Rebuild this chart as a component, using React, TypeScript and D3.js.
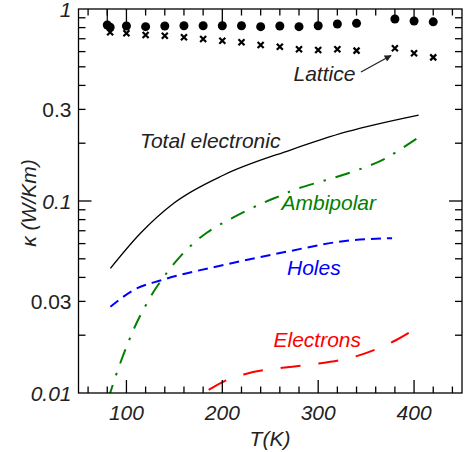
import React from "react";
import * as d3 from "d3";

// ---------- data ----------
const latticeT = [80, 83, 100, 120, 140, 160, 180, 200, 220, 240, 260, 280, 300, 320, 340, 380, 400, 420];
const latticeK = [0.825, 0.803, 0.816, 0.809, 0.816, 0.818, 0.818, 0.818, 0.818, 0.809, 0.816, 0.809, 0.818, 0.835, 0.842, 0.887, 0.866, 0.857];
const crossT = [83, 100, 120, 140, 160, 180, 200, 220, 240, 260, 280, 300, 320, 340, 380, 400, 420];
const crossK = [0.756, 0.747, 0.732, 0.726, 0.712, 0.698, 0.684, 0.671, 0.649, 0.636, 0.617, 0.612, 0.617, 0.607, 0.624, 0.588, 0.56];

const totalT = [83.3, 114.6, 149.3, 201.5, 271, 330.1, 404.8];
const totalK = [0.0446, 0.0679, 0.0973, 0.1366, 0.1843, 0.2296, 0.2804];

const ambiT = [81, 92, 107.6, 114.6, 127.8, 137.2, 144.1, 153.5, 166.7, 184.2, 201.5, 241.5, 260.6, 274.5, 302.3, 330.1, 364.9, 380.5, 404.8];
const ambiK = [0.0093, 0.01383, 0.0217, 0.0255, 0.0337, 0.0391, 0.0437, 0.0499, 0.0585, 0.0692, 0.0775, 0.098, 0.1062, 0.115, 0.126, 0.1382, 0.16, 0.1785, 0.2147];

const holesT = [83.3, 107.6, 137.2, 201.5, 267.6, 330.1, 377.1];
const holesK = [0.02815, 0.0344, 0.0388, 0.0464, 0.0545, 0.0621, 0.064];

const elecT = [185.8, 201.5, 222.5, 242.9, 262.7, 282.8, 302.6, 323.5, 342.6, 361.7, 380.8, 398.2];
const elecK = [0.01037, 0.01159, 0.01256, 0.01318, 0.01355, 0.01387, 0.01428, 0.0148, 0.01564, 0.01695, 0.0187, 0.0211];

const xTicks = [60, 80, 100, 120, 140, 160, 180, 200, 220, 240, 260, 280, 300, 320, 340, 360, 380, 400, 420, 440];
const xMajor = [100, 200, 300, 400];
const xLabels = ["100", "200", "300", "400"];
const yMinor = [0.02, 0.04, 0.05, 0.06, 0.07, 0.08, 0.09, 0.2, 0.4, 0.5, 0.6, 0.7, 0.8, 0.9];
const yMid = [0.03, 0.3];
const yDecade = [0.1];
const yLabelVals = [1, 0.3, 0.1, 0.03, 0.01];
const yLabelText = ["1", "0.3", "0.1", "0.03", "0.01"];
const yLabelItalic = [true, false, true, false, true];

// ---------- layout ----------
const W = 464, H = 452;
const L = 78.5, R = 462, T = 9, B = 393;
const FONT = "'Liberation Sans', Arial, Helvetica, sans-serif";
const TXT = "#222";

export default function App() {
  const x = d3.scaleLinear().domain([50, 450]).range([L, R]);
  const y = d3.scaleLog().domain([0.01, 1]).range([B, T]);
  const mk = (ts: number[], ks: number[], curve: any) => {
    const line = d3.line<number>().x((_, i) => x(ts[i])).y((_, i) => y(ks[i])).curve(curve);
    return line(ts.map((_, i) => i)) || "";
  };
  const cross = (cx: number, cy: number, s = 3) =>
    `M${cx - s},${cy - s}L${cx + s},${cy + s}M${cx - s},${cy + s}L${cx + s},${cy - s}`;

  return (
    <svg width={W} height={H} style={{ display: "block", position: "absolute", left: 0, top: 0 }} fontFamily={FONT}>
      <defs>
        <clipPath id="plot">
          <rect x={L} y={T} width={R - L} height={B - T} />
        </clipPath>
        <marker id="arr" viewBox="0 0 10 10" refX="9" refY="5" markerWidth="9" markerHeight="7" orient="auto" markerUnits="userSpaceOnUse">
          <path d="M0,0L10,5L0,10z" fill="#222" />
        </marker>
      </defs>
      <rect x={0} y={0} width={W} height={H} fill="#fff" />

      {/* curves */}
      <g clipPath="url(#plot)" fill="none">
        <path d={mk(totalT, totalK, d3.curveMonotoneX)} stroke="#000" strokeWidth={1.3} />
        <path d={mk(ambiT, ambiK, d3.curveBasis)} stroke="#008000" strokeWidth={2} strokeDasharray="15,10,2.5,10" />
        <path d={mk(holesT, holesK, d3.curveMonotoneX)} stroke="#0000ff" strokeWidth={2} strokeDasharray="10,6" />
        <path d={mk(elecT, elecK, d3.curveBasis)} stroke="#ff0000" strokeWidth={2} strokeDasharray="20,18" />
      </g>

      {/* lattice */}
      <line x1={x(latticeT[0])} x2={x(latticeT[0])} y1={y(1)} y2={y(latticeK[0])} stroke="#000" strokeWidth={1.2} />
      <g stroke="#000" strokeWidth={2.2}>
        {crossT.map((t, i) => (
          <path key={i} d={cross(x(t), y(crossK[i]))} />
        ))}
      </g>
      <g fill="#000">
        {latticeT.map((t, i) => (
          <circle key={i} cx={x(t)} cy={y(latticeK[i])} r={4.5} />
        ))}
      </g>

      {/* frame and ticks */}
      <g stroke="#000" strokeWidth={1.3} fill="none">
        <rect x={L} y={T} width={R - L} height={B - T} />
        {xTicks.map((t) => {
          const len = xMajor.includes(t) ? 13 : 6.5;
          return (
            <g key={t}>
              <line x1={x(t)} x2={x(t)} y1={B} y2={B - len} />
              <line x1={x(t)} x2={x(t)} y1={T} y2={T + len} />
            </g>
          );
        })}
        {[...yMinor, ...yMid].map((v) => (
          <g key={v}>
            <line x1={L} x2={L + 7} y1={y(v)} y2={y(v)} />
            <line x1={R} x2={R - 7} y1={y(v)} y2={y(v)} />
          </g>
        ))}
        {yDecade.map((v) => (
          <g key={v}>
            <line x1={L} x2={L + 13} y1={y(v)} y2={y(v)} />
            <line x1={R} x2={R - 13} y1={y(v)} y2={y(v)} />
          </g>
        ))}
      </g>

      {/* tick labels */}
      <g fontSize={21} fill={TXT}>
        {yLabelVals.map((v, i) => (
          <text key={v} x={71.5} y={y(v)} dy={i === 0 ? "0.4em" : "0.36em"} textAnchor="end" fontStyle={yLabelItalic[i] ? "italic" : "normal"}>
            {yLabelText[i]}
          </text>
        ))}
        {xMajor.map((t, i) => (
          <text key={t} x={x(t)} y={420} textAnchor="middle" fontStyle="italic">
            {xLabels[i]}
          </text>
        ))}
      </g>

      {/* axis titles */}
      <text x={270} y={446} textAnchor="middle" fontSize={21} fontStyle="italic" fill={TXT}>T(K)</text>
      <text transform="translate(35.5,203) rotate(-90)" textAnchor="middle" fontSize={21} fontStyle="italic" fill={TXT}>κ (W/Km)</text>

      {/* series labels */}
      <g fontSize={21} fontStyle="italic">
        <text x={140} y={147.5} fill={TXT}>Total electronic</text>
        <text x={281.5} y={210} fill="#008000">Ambipolar</text>
        <text x={287} y={274.5} fill="#0000ff">Holes</text>
        <text x={273.5} y={346.5} fill="#ff0000">Electrons</text>
        <text x={293.5} y={81} fill={TXT}>Lattice</text>
      </g>
      <line x1={361} y1={72} x2={391} y2={55.5} stroke="#222" strokeWidth={1.3} markerEnd="url(#arr)" />
    </svg>
  );
}
